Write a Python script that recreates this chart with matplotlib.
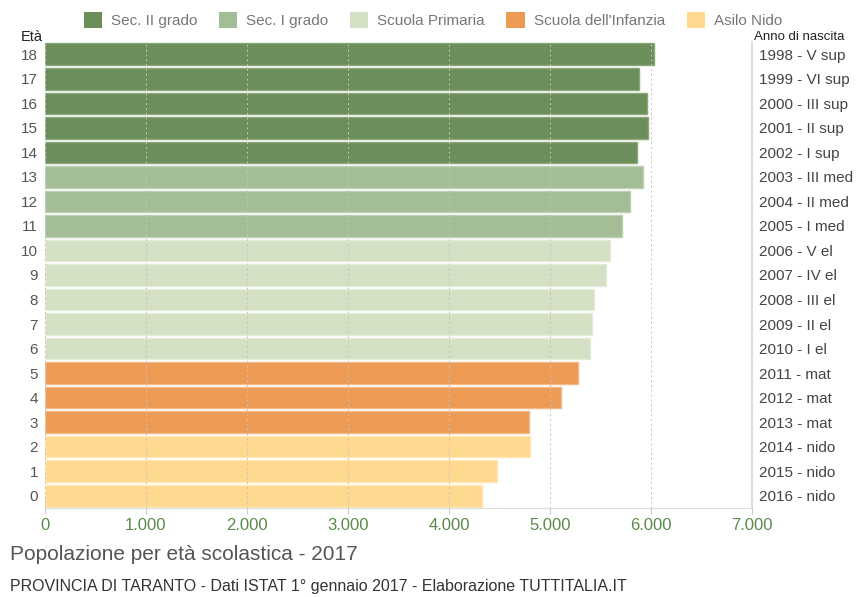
import matplotlib.pyplot as plt
from matplotlib.ticker import FuncFormatter
from matplotlib.patches import Patch

plt.rcParams['font.family'] = ['Liberation Sans', 'DejaVu Sans']

# Data: age 0..18
ages = list(range(19))
values = [4326, 4471, 4798, 4791, 5105, 5277, 5399, 5415, 5438, 5554,
          5597, 5709, 5788, 5917, 5861, 5973, 5960, 5881, 6026]
birth_labels = ['2016 - nido', '2015 - nido', '2014 - nido', '2013 - mat', '2012 - mat',
                '2011 - mat', '2010 - I el', '2009 - II el', '2008 - III el', '2007 - IV el',
                '2006 - V el', '2005 - I med', '2004 - II med', '2003 - III med', '2002 - I sup',
                '2001 - II sup', '2000 - III sup', '1999 - VI sup', '1998 - V sup']
groups = ['Sec. II grado', 'Sec. I grado', 'Scuola Primaria', "Scuola dell'Infanzia", 'Asilo Nido']
group_colors = ['#6b8e5a', '#a3bd96', '#d4e0c4', '#ec9a54', '#ffd98f']
edge_colors = ['#8aa87a', '#bdd0b2', '#e4ecd9', '#f3b985', '#ffe6b3']

def group_of(age):
    if age <= 2:
        return 4
    if age <= 5:
        return 3
    if age <= 10:
        return 2
    if age <= 13:
        return 1
    return 0

fig = plt.figure(figsize=(8.59, 5.97), dpi=100)
ax = fig.add_axes([45 / 859, 1 - 508 / 597, (752 - 45) / 859, (508 - 42) / 597])

for a, v in zip(ages, values):
    g = group_of(a)
    ax.barh(a, v, height=0.88, color=group_colors[g], edgecolor=edge_colors[g],
            linewidth=1.0, zorder=2)

ax.set_xlim(0, 7000)
ax.set_ylim(-0.5, 18.5)
ax.set_xticks(range(0, 7001, 1000))
ax.xaxis.set_major_formatter(FuncFormatter(lambda x, p: f'{int(x):,}'.replace(',', '.')))
ax.set_yticks(ages)
ax.set_yticklabels([str(a) for a in ages])
ax.tick_params(axis='x', colors='#cccccc', labelcolor='#5a8a48', labelsize=12, length=4, pad=3)
ax.tick_params(axis='y', length=0, labelcolor='#555555', labelsize=11, pad=5)
ax.grid(axis='x', linestyle=(0, (2, 3)), color='#c4c4c4', linewidth=0.7, zorder=3)
ax.set_axisbelow(False)
for s in ['top', 'left']:
    ax.spines[s].set_visible(False)
ax.spines['bottom'].set_color('#dddddd')
ax.spines['right'].set_color('#dddddd')
ax.spines['right'].set_linewidth(1.5)

# right labels
ax2 = ax.twinx()
ax2.set_ylim(ax.get_ylim())
ax2.set_yticks(ages)
ax2.set_yticklabels(birth_labels)
ax2.tick_params(axis='y', length=0, labelcolor='#444444', labelsize=11, pad=5)
for s in ax2.spines.values():
    s.set_visible(False)

fig.text(43 / 859, 1 - 37 / 597, 'Età', ha='right', va='center', fontsize=10.5, color='#222222')
fig.text(754 / 859, 1 - 37 / 597, 'Anno di nascita', ha='left', va='center', fontsize=9.5, color='#222222')

handles = [Patch(facecolor=c, edgecolor='none') for c in group_colors]
fig.legend(handles, groups, loc='center', bbox_to_anchor=(433 / 859, 1 - 20 / 597), ncol=5,
           frameon=False, fontsize=11, labelcolor='#777777', handlelength=1.2, handleheight=1.2,
           handletextpad=0.6, columnspacing=1.4)

fig.text(10 / 859, 1 - 554 / 597, 'Popolazione per età scolastica - 2017', ha='left', va='center',
         fontsize=15, color='#555555')
fig.text(10 / 859, 1 - 587 / 597,
         'PROVINCIA DI TARANTO - Dati ISTAT 1° gennaio 2017 - Elaborazione TUTTITALIA.IT',
         ha='left', va='center', fontsize=11.5, color='#333333')

fig.savefig('out.png', dpi=100)
